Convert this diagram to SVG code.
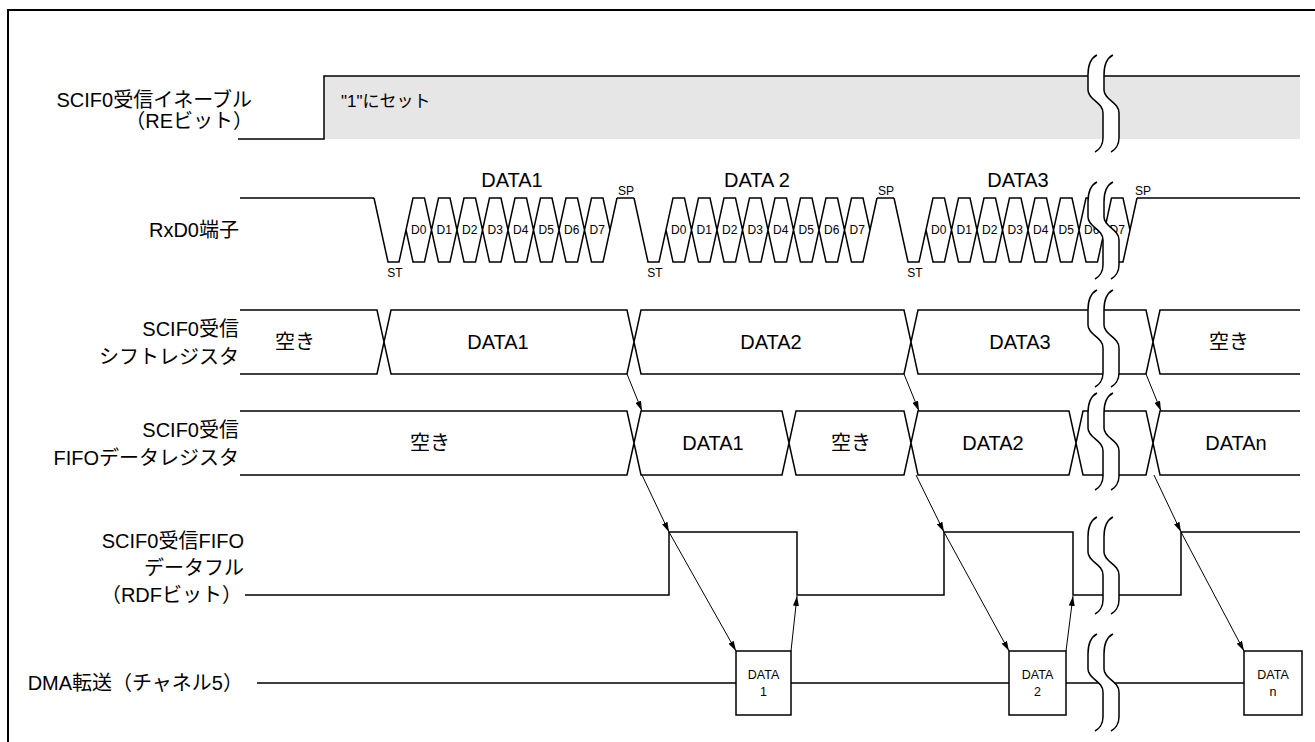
<svg xmlns="http://www.w3.org/2000/svg" xmlns:xlink="http://www.w3.org/1999/xlink" width="1315" height="742" viewBox="0 0 1315 742">
<style>
.sig{fill:none;stroke:#000;stroke-width:1.5}
.arr{fill:none;stroke:#000;stroke-width:1;marker-end:url(#ah)}
.t{font-family:"Liberation Sans","Noto Sans CJK JP",sans-serif;font-size:20px;fill:#000}
.e{text-anchor:end}
.m{text-anchor:middle}
.s{font-size:12px}
.b{font-size:12.5px}
.box{fill:#fff;stroke:#000;stroke-width:1.5}
.cut{fill:none;stroke:#000;stroke-width:1.5}
</style>
<defs>
<marker id="ah" viewBox="0 0 10 6" refX="10" refY="3" markerWidth="10" markerHeight="6" markerUnits="userSpaceOnUse" orient="auto"><path d="M0,0 L10,3 L0,6 z" fill="#000"/></marker>
<path id="rxframe" class="sig" d="M374,198 L388,262 L399,262 L413,198 H424.5 L438.5,262 H450 L464,198 H475.5 L489.5,262 H501 L515,198 H526.5 L540.5,262 H552 L566,198 H577.5 L591.5,262 H603 L617,198 M406,230 L413,262 H424.5 L438.5,198 H450 L464,262 H475.5 L489.5,198 H501 L515,262 H526.5 L540.5,198 H552 L566,262 H577.5 L591.5,198 H603 L610,230"/>
<g id="brk">
<path d="M9,0 C3,3 0,10 0,20 L0,35 C0,45 15,47 15,58 L15,83 C15,90 11,95 7,97 L23,97 C27,95 31,90 31,83 L31,58 C31,47 16,45 16,35 L16,20 C16,10 19,3 25,0 Z" fill="#fff"/>
<path class="cut" d="M9,0 C3,3 0,10 0,20 L0,35 C0,45 15,47 15,58 L15,83 C15,90 11,95 7,97"/>
<path class="cut" d="M25,0 C19,3 16,10 16,20 L16,35 C16,45 31,47 31,58 L31,83 C31,90 27,95 23,97"/>
</g>
</defs>
<rect width="1315" height="742" fill="#fff"/>
<path d="M8,742 V10 H1315" fill="none" stroke="#000" stroke-width="2"/>

<g id="re">
<rect x="324" y="76" width="976" height="63" fill="#e6e6e6"/>
<path class="sig" d="M238,139 H324 V76 H1300"/>
<text class="t e" x="252" y="107">SCIF0受信イネーブル</text>
<text class="t e" x="253" y="128">（REビット）</text>
<text class="t" x="341" y="107" style="font-size:17px">"1"にセット</text>
</g>

<g id="rxd">
<path class="sig" d="M240,198 H374 M617,198 H634 M877,198 H894 M1137,198 H1300"/>
<use xlink:href="#rxframe"/>
<use xlink:href="#rxframe" x="260"/>
<use xlink:href="#rxframe" x="520"/>
<text class="t e" x="239" y="237">RxD0端子</text>
<text class="t m" x="512" y="187">DATA1</text>
<text class="t m" x="757" y="187">DATA 2</text>
<text class="t m" x="1018" y="187">DATA3</text>
<g class="t s m">
<text x="395" y="277">ST</text><text x="655" y="277">ST</text><text x="915" y="277">ST</text>
<text x="626" y="195">SP</text><text x="886" y="195">SP</text><text x="1143" y="195">SP</text>
<text x="418.75" y="234">D0</text><text x="444.25" y="234">D1</text><text x="469.75" y="234">D2</text><text x="495.25" y="234">D3</text><text x="520.75" y="234">D4</text><text x="546.25" y="234">D5</text><text x="571.75" y="234">D6</text><text x="597.25" y="234">D7</text>
<text x="678.75" y="234">D0</text><text x="704.25" y="234">D1</text><text x="729.75" y="234">D2</text><text x="755.25" y="234">D3</text><text x="780.75" y="234">D4</text><text x="806.25" y="234">D5</text><text x="831.75" y="234">D6</text><text x="857.25" y="234">D7</text>
<text x="938.75" y="234">D0</text><text x="964.25" y="234">D1</text><text x="989.75" y="234">D2</text><text x="1015.25" y="234">D3</text><text x="1040.75" y="234">D4</text><text x="1066.25" y="234">D5</text><text x="1091.75" y="234">D6</text><text x="1117.25" y="234">D7</text>
</g>
</g>

<g id="shift">
<path class="sig" d="M240,310 H377 L391,374 H627 L641,310 H904 L918,374 H1146 L1160,310 H1300 M240,374 H377 L391,310 H627 L641,374 H904 L918,310 H1146 L1160,374 H1300"/>
<text class="t e" x="239" y="336">SCIF0受信</text>
<text class="t e" x="239" y="364">シフトレジスタ</text>
<text class="t m" x="295" y="349">空き</text>
<text class="t m" x="498" y="349">DATA1</text>
<text class="t m" x="771" y="349">DATA2</text>
<text class="t m" x="1020" y="349">DATA3</text>
<text class="t m" x="1229" y="349">空き</text>
</g>

<g id="fifo">
<path class="sig" d="M240,411 H627 L641,475 H782 L796,411 H904 L918,475 H1069 L1083,411 H1146 L1160,475 H1300 M240,475 H627 L641,411 H782 L796,475 H904 L918,411 H1069 L1083,475 H1146 L1160,411 H1300"/>
<text class="t e" x="239" y="437">SCIF0受信</text>
<text class="t e" x="239" y="465">FIFOデータレジスタ</text>
<text class="t m" x="430" y="450">空き</text>
<text class="t m" x="713" y="450">DATA1</text>
<text class="t m" x="851" y="450">空き</text>
<text class="t m" x="993" y="450">DATA2</text>
<text class="t m" x="1236" y="450">DATAn</text>
</g>

<g id="rdf">
<path class="sig" d="M245,595 H669 V532 H797 V595 H944 V532 H1073 V595 H1181 V532 H1300"/>
<text class="t e" x="244" y="548">SCIF0受信FIFO</text>
<text class="t e" x="244" y="575">データフル</text>
<text class="t e" x="242" y="602">（RDFビット）</text>
</g>

<g id="dma">
<path class="sig" d="M257,683 H736 M791,683 H1009 M1066,683 H1244"/>
<text class="t e" x="243" y="690">DMA転送（チャネル5）</text>
<g id="dma-data1"><rect class="box" x="736" y="651" width="55" height="64"/><text class="t b m" x="763.5" y="679">DATA</text><text class="t b m" x="763.5" y="696">1</text></g>
<g id="dma-data2"><rect class="box" x="1009" y="651" width="57" height="64"/><text class="t b m" x="1037.5" y="679">DATA</text><text class="t b m" x="1037.5" y="696">2</text></g>
<g id="dma-datan"><rect class="box" x="1244" y="651" width="58" height="64"/><text class="t b m" x="1273" y="679">DATA</text><text class="t b m" x="1273" y="696">n</text></g>
</g>

<g id="connectors">
<path class="arr" d="M627,374 L642,411"/>
<path class="arr" d="M904,374 L919,411"/>
<path class="arr" d="M1146,374 L1161,411"/>
<path class="arr" d="M642,475 L669,532"/>
<path class="arr" d="M916,475 L944,532"/>
<path class="arr" d="M1154,475 L1181,532"/>
<path class="arr" d="M669,532 L736,651"/>
<path class="arr" d="M944,532 L1009,651"/>
<path class="arr" d="M1181,532 L1244,651"/>
<path class="arr" d="M791,651 L797,596"/>
<path class="arr" d="M1066,651 L1073,596"/>
</g>

<g id="breaks">
<use xlink:href="#brk" x="1088" y="55"/>
<use xlink:href="#brk" x="1088" y="182"/>
<use xlink:href="#brk" x="1088" y="290"/>
<use xlink:href="#brk" x="1088" y="393"/>
<use xlink:href="#brk" x="1088" y="517"/>
<use xlink:href="#brk" x="1088" y="634"/>
</g>
</svg>
